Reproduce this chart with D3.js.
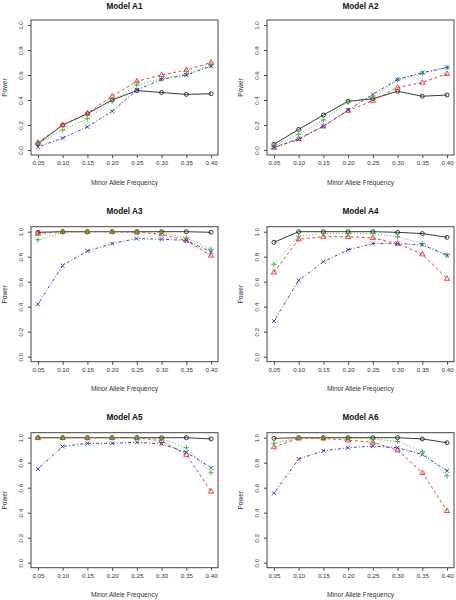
<!DOCTYPE html>
<html><head><meta charset="utf-8">
<script src="https://cdn.jsdelivr.net/npm/d3@7"></script>
<style>body{margin:0;background:#fff}svg{display:block}text{font-family:"Liberation Sans",Arial,Helvetica,sans-serif}</style>
</head><body>
<script>
const freqs = [0.05,0.10,0.15,0.20,0.25,0.30,0.35,0.40];
const yTicks = [0,0.2,0.4,0.6,0.8,1.0];
const titles = ["Model A1","Model A2","Model A3","Model A4","Model A5","Model A6"];
const seriesNames = ["black","red","green","blue"];
// values per model: [black, red, green, blue]
const A1 = [
  [0.05,0.20,0.29,0.40,0.475,0.46,0.445,0.45],
  [0.06,0.20,0.295,0.43,0.55,0.60,0.64,0.70],
  [0.05,0.16,0.25,0.39,0.52,0.57,0.61,0.68],
  [0.025,0.095,0.185,0.31,0.48,0.565,0.60,0.67]];
const A2 = [
  [0.045,0.165,0.28,0.39,0.41,0.47,0.43,0.44],
  [0.02,0.09,0.19,0.315,0.395,0.50,0.54,0.61],
  [0.03,0.125,0.24,0.385,0.42,0.56,0.61,0.66],
  [0.02,0.085,0.19,0.32,0.445,0.565,0.62,0.66]];
const A3 = [
  [0.995,1.0,1.0,1.0,1.0,1.0,1.0,0.995],
  [0.985,1.0,1.0,1.0,0.995,0.98,0.93,0.81],
  [0.935,0.995,1.0,1.0,1.0,0.995,0.95,0.86],
  [0.42,0.73,0.845,0.905,0.945,0.94,0.93,0.84]];
const A4 = [
  [0.915,1.0,1.0,1.0,1.0,0.995,0.985,0.955],
  [0.675,0.94,0.96,0.96,0.95,0.905,0.82,0.625],
  [0.74,0.965,0.985,0.985,0.985,0.96,0.905,0.815],
  [0.285,0.61,0.76,0.855,0.905,0.905,0.895,0.81]];
const A5 = [
  [1.0,1.0,1.0,1.0,1.0,1.0,1.0,0.99],
  [1.0,1.0,1.0,1.0,1.0,0.975,0.865,0.57],
  [1.0,1.0,1.0,1.0,1.0,0.99,0.92,0.72],
  [0.75,0.93,0.955,0.955,0.963,0.95,0.883,0.76]];
const A6 = [
  [0.995,1.0,1.0,1.0,1.0,1.0,0.99,0.96],
  [0.925,0.995,0.995,0.98,0.963,0.90,0.72,0.415],
  [0.955,1.0,1.0,0.995,0.99,0.97,0.89,0.695],
  [0.555,0.83,0.895,0.92,0.933,0.92,0.865,0.735]];
const models = [A1,A2,A3,A4,A5,A6];

const colors = ["#222222","#f02a2a","#22c022","#2a2ae8"];
const dashes = [null,"3,2.5","1,2","1,2,3,2"];
const shapes = ["circle","triangle","plus","cross"];

const W = 456, H = 600;
const svg = d3.select("body").append("svg").attr("width",W).attr("height",H);
const colLeft = [31,267], rowTop = [20,226.7,432.7];
const bw = 187, bh = 135;

function marker(g, shape, x, y, c){
  const s = 2.3;
  if(shape==="circle") g.append("circle").attr("cx",x).attr("cy",y).attr("r",2).attr("fill","none").attr("stroke",c).attr("stroke-width",0.9);
  else if(shape==="triangle") g.append("path").attr("d",`M${x},${y-2.8}L${x+2.6},${y+1.7}L${x-2.6},${y+1.7}Z`).attr("fill","none").attr("stroke",c).attr("stroke-width",0.9);
  else if(shape==="plus") g.append("path").attr("d",`M${x-s-0.4},${y}H${x+s+0.4}M${x},${y-s-0.4}V${y+s+0.4}`).attr("stroke",c).attr("stroke-width",0.9);
  else g.append("path").attr("d",`M${x-s+0.3},${y-s+0.3}L${x+s-0.3},${y+s-0.3}M${x-s+0.3},${y+s-0.3}L${x+s-0.3},${y-s+0.3}`).attr("stroke",c).attr("stroke-width",0.9);
}

models.forEach((m,i)=>{
  const col = i%2, row = Math.floor(i/2);
  const L = colLeft[col], T = rowTop[row];
  const x = d3.scaleLinear().domain([0.036,0.414]).range([L,L+bw]);
  const y = d3.scaleLinear().domain([-0.04,1.04]).range([T+bh,T]);
  const g = svg.append("g");

  // title
  g.append("text").attr("x",L+bw/2).attr("y",row===0?9:T-12.5).attr("text-anchor","middle")
    .attr("font-weight","bold").attr("font-size",8.2).attr("fill","#111").text(titles[i]);

  // x axis
  const xa = g.append("g").attr("transform",`translate(0,${T+bh})`)
    .call(d3.axisBottom(x).tickValues(freqs).tickFormat(d3.format(".2f")).tickSize(3).tickPadding(3));
  xa.select(".domain").remove();
  xa.selectAll("line").attr("stroke","#444");
  xa.selectAll("text").attr("font-size",6.2).attr("fill","#333").attr("font-family",null);

  // y axis
  const ya = g.append("g").attr("transform",`translate(${L},0)`)
    .call(d3.axisLeft(y).tickValues(yTicks).tickFormat(d3.format(".1f")).tickSize(3).tickPadding(0));
  ya.select(".domain").remove();
  ya.selectAll("line").attr("stroke","#444");
  ya.selectAll("text").attr("font-size",6.2).attr("fill","#333").attr("font-family",null)
    .attr("text-anchor","middle").attr("dy",null)
    .attr("transform","translate(-8,0) rotate(-90)").attr("x",0).attr("y",0);

  // axis titles
  g.append("text").attr("x",L+bw/2).attr("y",T+bh+29.5).attr("text-anchor","middle")
    .attr("font-size",6.6).attr("fill","#333").text("Minor Allele Frequency");
  g.append("text").attr("transform",`translate(${L-24.5},${T+bh/2}) rotate(-90)`).attr("text-anchor","middle")
    .attr("font-size",6.6).attr("fill","#333").text("Power");

  // series
  m.forEach((vals,k)=>{
    const line = d3.line().x((d,j)=>x(freqs[j])).y(d=>y(d));
    const p = g.append("path").attr("d",line(vals)).attr("fill","none").attr("stroke",colors[k]).attr("stroke-width",0.9);
    if(dashes[k]) p.attr("stroke-dasharray",dashes[k]);
    vals.forEach((v,j)=>marker(g,shapes[k],x(freqs[j]),y(v),colors[k]));
  });

  // box
  g.append("rect").attr("x",L).attr("y",T).attr("width",bw).attr("height",bh)
    .attr("fill","none").attr("stroke","#444").attr("stroke-width",1);
});
</script>
</body></html>
